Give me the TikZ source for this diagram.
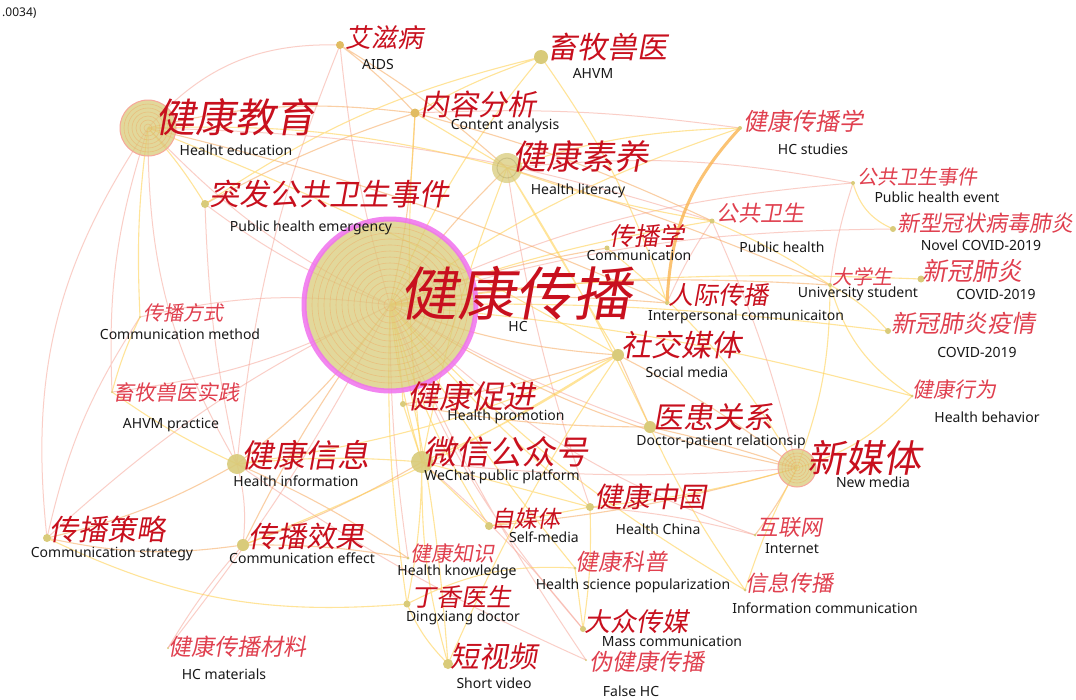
\documentclass[tikz,border=0pt]{standalone}
\usepackage{fontspec}
\setmainfont{Noto Sans}
\newfontfamily\cjk[FakeSlant=0.18]{Noto Sans CJK SC}
\newfontfamily\ensf{Noto Sans}
\usetikzlibrary{positioning}

\definecolor{kwred}{HTML}{C8101E}
\definecolor{kwlite}{HTML}{E0404F}
\definecolor{dotfill}{HTML}{D9CB7A}
\definecolor{ringc}{HTML}{F2A25C}
\definecolor{lnpink}{HTML}{F7A79A}
\definecolor{lnorange}{HTML}{F6A04D}
\definecolor{lnyellow}{HTML}{FFD256}
\definecolor{halo}{HTML}{F070EE}

\pgfdeclarelayer{links}
\pgfsetlayers{links,main}

\tikzset{
  kwdot/.style={circle, fill=dotfill, inner sep=0pt, minimum size=#1},
  bigkw/.style={circle, fill=dotfill, fill opacity=0.75, inner sep=0pt, minimum size=#1},
  ring/.style={draw=ringc, line width=0.6pt, opacity=0.45},
  cn/.style={text=kwred, inner sep=0pt, font=\cjk\fontsize{#1}{#1}\selectfont},
  cnl/.style={text=kwlite, inner sep=0pt, font=\cjk\fontsize{#1}{#1}\selectfont},
  en/.style={text=black!90, inner sep=0pt, font=\ensf\fontsize{14}{14}\selectfont},
  pinklink/.style={draw=lnpink, line width=1pt, opacity=0.55},
  orangelink/.style={draw=lnorange, line width=1.1pt, opacity=0.5},
  yellowlink/.style={draw=lnyellow, line width=1.1pt, opacity=0.6},
}

\begin{document}
\begin{tikzpicture}[x=1pt,y=-1pt]
        \useasboundingbox (0,0) rectangle (1076,699);

        % keyword circles
        \node[bigkw=170] (hc) at (390,305) {};
        \foreach \r in {6,12,...,78} \draw[ring] (hc.center) circle (\r pt);
        \draw[halo, line width=5pt, opacity=0.85] (hc.center) circle (86pt);

        \node[bigkw=56, draw=lnpink, line width=1pt] (jkjy) at (148,128) {};
        \foreach \r in {4,8,...,24} \draw[ring] (jkjy.center) circle (\r pt);

        \node[bigkw=38, draw=lnpink, line width=1pt] (xmt) at (797,468) {};
        \foreach \r in {3,6,...,15} \draw[ring] (xmt.center) circle (\r pt);

        \node[bigkw=30] (jksy) at (507,168) {};
        \draw[dotfill!70!black, opacity=0.3, line width=1pt] (jksy.center) circle (10pt);

        \node[kwdot=22, opacity=0.9] (wx) at (422,462) {};
        \node[kwdot=20, opacity=0.9] (jkxx) at (237,464) {};
        \node[kwdot=12] (cbxg) at (243,545) {};
        \node[kwdot=12] (sjmt) at (618,355) {};
        \node[kwdot=12] (yhgx) at (650,427) {};
        \node[kwdot=14] (xmsy) at (541,57) {};
        \node[kwdot=9, fill=dotfill!80!orange] (nrfx) at (415,113) {};
        \node[kwdot=8, fill=dotfill!80!orange] (azb) at (340,45) {};
        \node[kwdot=8] (tfgw) at (205,204) {};
        \node[kwdot=8] (cbcl) at (47,538) {};
        \node[kwdot=10] (dsp) at (448,664) {};
        \node[kwdot=8] (jkzg) at (590,507) {};
        \node[kwdot=8] (zmt) at (489,526) {};
        \node[kwdot=7] (dxys) at (407,604) {};
        \node[kwdot=6] (dzcm) at (583,629) {};
        \node[kwdot=6] (jkcj) at (403,404) {};
        \node[kwdot=5] (cbx) at (607,248) {};
        \node[kwdot=5] (ggws) at (712,221) {};
        \node[kwdot=4] (jkcbx) at (740,128) {};
        \node[kwdot=4] (ggwssj) at (853,183) {};
        \node[kwdot=6] (xxgz) at (893,229) {};
        \node[kwdot=4] (dxs) at (830,285) {};
        \node[kwdot=7] (xg) at (921,279) {};
        \node[kwdot=6] (xgyq) at (888,331) {};
        \node[kwdot=4] (rjcb) at (667,303) {};
        \node[kwdot=3] (jkxw) at (912,396) {};
        \node[kwdot=3] (hlw) at (755,535) {};
        \node[kwdot=3] (xxcb) at (745,590) {};
        \node[kwdot=3] (jkzs) at (408,558) {};
        \node[kwdot=3] (jkkp) at (575,568) {};
        \node[kwdot=2] (wjkcb) at (586,660) {};
        \node[kwdot=2] (cbfs) at (140,317) {};
        \node[kwdot=2] (xmsysj) at (112,392) {};
        \node[kwdot=2] (jkcbcl) at (168,648) {};

        % labels
        \node[cn=58] (hc-cn) at (515,293) {健康传播};
        \node[en] (hc-en) at (518,326) {HC};
        \node[cn=40] (jkjy-cn) at (235,117) {健康教育};
        \node[en] (jkjy-en) at (236,150) {Healht education};
        \node[cn=30] (tfgw-cn) at (329,194) {突发公共卫生事件};
        \node[en] (tfgw-en) at (311,228) {Public health emergency};
        \node[cn=26] (azb-cn) at (384,38) {艾滋病};
        \node[en] (azb-en) at (378,65) {AIDS};
        \node[cn=30] (xmsy-cn) at (607,47) {畜牧兽医};
        \node[en] (xmsy-en) at (593,73) {AHVM};
        \node[cn=29] (nrfx-cn) at (478,104) {内容分析};
        \node[en] (nrfx-en) at (505,126) {Content analysis};
        \node[cn=34] (jksy-cn) at (580,157) {健康素养};
        \node[en] (jksy-en) at (578,191) {Health literacy};
        \node[cnl=24] (jkcbx-cn) at (803,121) {健康传播学};
        \node[en] (jkcbx-en) at (813,149) {HC studies};
        \node[cnl=20] (ggwssj-cn) at (917,177) {公共卫生事件};
        \node[en] (ggwssj-en) at (937,197) {Public health event};
        \node[cnl=22] (xxgz-cn) at (985,223) {新型冠状病毒肺炎};
        \node[en] (xxgz-en) at (981,245) {Novel COVID-2019};
        \node[cnl=22] (ggws-cn) at (760,213) {公共卫生};
        \node[en] (ggws-en) at (782,247) {Public health};
        \node[cnl=20] (dxs-cn) at (862,277) {大学生};
        \node[en] (dxs-en) at (858,294) {University student};
        \node[cnl=25] (xg-cn) at (972,271) {新冠肺炎};
        \node[en] (xg-en) at (996,294) {COVID-2019};
        \node[cnl=24] (xgyq-cn) at (963,323) {新冠肺炎疫情};
        \node[en] (xgyq-en) at (977,352) {COVID-2019};
        \node[cn=25] (cbx-cn) at (647,236) {传播学};
        \node[en] (cbx-en) at (639,255) {Communication};
        \node[cn=25] (rjcb-cn) at (718,295) {人际传播};
        \node[en] (rjcb-en) at (746,317) {Interpersonal communicaiton};
        \node[cn=30] (sjmt-cn) at (681,345) {社交媒体};
        \node[en] (sjmt-en) at (687,372) {Social media};
        \node[cn=30] (yhgx-cn) at (713,417) {医患关系};
        \node[en] (yhgx-en) at (721,442) {Doctor-patient relationsip};
        \node[cn=38] (xmt-cn) at (864,458) {新媒体};
        \node[en] (xmt-en) at (873,482) {New media};
        \node[cnl=21] (jkxw-cn) at (954,389) {健康行为};
        \node[en] (jkxw-en) at (987,417) {Health behavior};
        \node[cnl=22] (hlw-cn) at (789,527) {互联网};
        \node[en] (hlw-en) at (792,549) {Internet};
        \node[cnl=22] (xxcb-cn) at (789,583) {信息传播};
        \node[en] (xxcb-en) at (825,608) {Information communication};
        \node[cn=28] (jkzg-cn) at (650,497) {健康中国};
        \node[en] (jkzg-en) at (658,529) {Health China};
        \node[cn=23] (zmt-cn) at (526,519) {自媒体};
        \node[en] (zmt-en) at (544,537) {Self-media};
        \node[cnl=21] (jkzs-cn) at (452,553) {健康知识};
        \node[en] (jkzs-en) at (457,572) {Health knowledge};
        \node[cnl=23] (jkkp-cn) at (621,562) {健康科普};
        \node[en] (jkkp-en) at (633,586) {Health science popularization};
        \node[cn=25] (dxys-cn) at (461,597) {丁香医生};
        \node[en] (dxys-en) at (463,618) {Dingxiang doctor};
        \node[cn=26] (dzcm-cn) at (636,622) {大众传媒};
        \node[en] (dzcm-en) at (672,641) {Mass communication};
        \node[cnl=23] (wjkcb-cn) at (647,662) {伪健康传播};
        \node[en] (wjkcb-en) at (631,691) {False HC};
        \node[cn=29] (dsp-cn) at (494,656) {短视频};
        \node[en] (dsp-en) at (494,683) {Short video};
        \node[cn=33] (wx-cn) at (506,452) {微信公众号};
        \node[en] (wx-en) at (502,477) {WeChat public platform};
        \node[cn=32] (jkcj-cn) at (471,396) {健康促进};
        \node[en] (jkcj-en) at (506,417) {Health promotion};
        \node[cn=32] (jkxx-cn) at (305,455) {健康信息};
        \node[en] (jkxx-en) at (296,481) {Health information};
        \node[cnl=20] (cbfs-cn) at (183,313) {传播方式};
        \node[en] (cbfs-en) at (180,334) {Communication method};
        \node[cnl=21] (xmsysj-cn) at (176,392) {畜牧兽医实践};
        \node[en] (xmsysj-en) at (171,425) {AHVM practice};
        \node[cn=29] (cbcl-cn) at (107,529) {传播策略};
        \node[en] (cbcl-en) at (112,554) {Communication strategy};
        \node[cn=29] (cbxg-cn) at (306,537) {传播效果};
        \node[en] (cbxg-en) at (302,558) {Communication effect};
        \node[cnl=23] (jkcbcl-cn) at (237,647) {健康传播材料};
        \node[en] (jkcbcl-en) at (224,674) {HC materials};
        \node[en, font=\ensf\bfseries\fontsize{12}{12}\selectfont, anchor=west] (thr) at (2,13) {.0034)};

        \begin{pgfonlayer}{links}
        \fill[white] (0,0) rectangle (1076,699);

        % links from HC
        \draw[pinklink] (hc.center) to[bend left=10] (jkjy.center)
          (hc.center) to[bend left=5] (azb.center)
          (hc.center) to[bend left=8] (tfgw.center)
          (hc.center) to[bend right=10] (cbfs.center)
          (hc.center) to[bend left=10] (xmsysj.center)
          (hc.center) to[bend right=8] (cbcl.center)
          (hc.center) to[bend left=5] (jkcbcl.center)
          (hc.center) to[bend right=10] (dzcm.center)
          (hc.center) to[bend right=12] (hlw.center)
          (hc.center) to[bend left=10] (ggwssj.center)
          (hc.center) to[bend left=8] (xxgz.center)
          (hc.center) to[bend right=5] (yhgx.center)
          (hc.center) to[bend right=4] (jkzs.center)
          (hc.center) to[bend right=5] (wjkcb.center);
        \draw[orangelink] (hc.center) to[bend right=5] (nrfx.center)
          (hc.center) to[bend left=5] (jksy.center)
          (hc.center) to[bend right=8] (sjmt.center)
          (hc.center) to[bend right=10] (xmt.center)
          (hc.center) to[bend left=8] (jkxx.center)
          (hc.center) to[bend right=5] (cbxg.center)
          (hc.center) to[bend left=5] (rjcb.center)
          (hc.center) to[bend left=6] (dxs.center)
          (hc.center) to[bend left=5] (cbx.center);
        \draw[yellowlink] (hc.center) to[bend left=8] (xmsy.center)
          (hc.center) to[bend right=5] (wx.center)
          (hc.center) to[bend left=4] (jkcj.center)
          (hc.center) to[bend right=5] (dxys.center)
          (hc.center) to[bend left=5] (dsp.center)
          (hc.center) to[bend right=8] (zmt.center)
          (hc.center) to[bend right=5] (jkzg.center)
          (hc.center) to[bend right=4] (jkkp.center)
          (hc.center) to[bend right=8] (xxcb.center)
          (hc.center) to[bend left=5] (jkxw.center)
          (hc.center) to[bend left=5] (xg.center)
          (hc.center) to[bend left=4] (xgyq.center)
          (hc.center) to[bend left=5] (ggws.center)
          (hc.center) to[bend left=8] (jkcbx.center);

        % other links
        \draw[pinklink] (jkjy.center) to[bend left=25] (azb.center)
          (jkjy.center) to[bend left=8] (ggws.center)
          (jkjy.center) to[bend right=15] (jkxx.center)
          (jkjy.center) to[bend right=10] (xmsysj.center)
          (jkjy.center) to[bend right=20] (cbcl.center)
          (azb.center) to[bend right=8] (jkxx.center)
          (jkcbx.center) to[bend right=5] (nrfx.center)
          (jksy.center) to[bend left=8] (ggwssj.center)
          (jksy.center) to[bend right=5] (jkzg.center)
          (ggwssj.center) to[bend right=5] (dxs.center)
          (ggws.center) to[bend left=5] (xmt.center)
          (ggws.center) to[bend right=5] (rjcb.center)
          (xmt.center) to[bend left=5] (wx.center)
          (jkzg.center) to[bend left=5] (hlw.center)
          (jkxx.center) to[bend left=10] (cbxg.center)
          (jkxx.center) to[bend right=5] (wjkcb.center)
          (cbcl.center) to[bend left=10] (cbfs.center)
          (cbxg.center) to[bend right=5] (jkcbcl.center)
          (dzcm.center) to[bend right=5] (wx.center)
          (tfgw.center) to[bend right=5] (jkxx.center);
        \draw[orangelink] (jkjy.center) to[bend left=10] (nrfx.center)
          (jkjy.center) to[bend left=5] (rjcb.center)
          (azb.center) to[bend left=5] (nrfx.center)
          (azb.center) to[bend left=5] (jksy.center)
          (nrfx.center) to[bend right=5] (tfgw.center)
          (nrfx.center) to[bend left=5] (ggws.center)
          (jksy.center) to[bend left=3] (dxs.center)
          (xmt.center) to[bend right=3] (yhgx.center)
          (xmt.center) to[bend right=5] (sjmt.center)
          (xmt.center) to[bend left=5] (hlw.center)
          (xmt.center) to[bend left=5] (zmt.center)
          (sjmt.center) to[bend left=5] (jkcj.center)
          (sjmt.center) to (yhgx.center)
          (yhgx.center) to[bend left=5] (jkcj.center)
          (wx.center) to[bend left=5] (cbxg.center)
          (jkxx.center) to[bend left=8] (cbcl.center)
          (jkxx.center) to[bend left=5] (jkzs.center)
          (cbcl.center) to[bend right=10] (cbxg.center)
          (cbxg.center) to[bend left=5] (jkzs.center);
        \draw[yellowlink] (jkjy.center) to[bend left=8] (jksy.center)
          (jkjy.center) to[bend left=5] (tfgw.center)
          (jkjy.center) to[bend right=5] (cbfs.center)
          (jkjy.center) to[bend left=4] (sjmt.center)
          (xmsy.center) to[bend right=5] (nrfx.center)
          (xmsy.center) to[bend left=8] (rjcb.center)
          (xmsy.center) to[bend right=10] (tfgw.center)
          (nrfx.center) to[bend right=5] (wx.center)
          (nrfx.center) to (jksy.center)
          (jksy.center) to[bend left=8] (jkcbx.center)
          (jksy.center) to[bend right=5] (ggws.center)
          (jksy.center) to (sjmt.center)
          (jksy.center) to[bend left=3] (yhgx.center)
          (jksy.center) to[bend right=5] (wx.center)
          (ggwssj.center) to[bend right=25] (xxgz.center)
          (dxs.center) to[bend left=10] (xgyq.center)
          (dxs.center) to[bend right=20] (jkxw.center)
          (jkxw.center) to[bend left=15] (xmt.center)
          (ggws.center) to[bend left=5] (dxs.center)
          (xmt.center) to[bend right=10] (dxs.center)
          (xmt.center) to[bend left=5] (jkzg.center)
          (xmt.center) to[bend right=5] (xxcb.center)
          (xmt.center) to[bend right=10] (cbx.center)
          (sjmt.center) to[bend left=5] (wx.center)
          (sjmt.center) to[bend left=8] (jkxx.center)
          (sjmt.center) to[bend left=5] (cbxg.center)
          (sjmt.center) to[bend right=5] (dsp.center)
          (yhgx.center) to[bend right=5] (xxcb.center)
          (jkzg.center) to (wx.center)
          (jkzg.center) to[bend left=5] (dzcm.center)
          (jkzg.center) to (zmt.center)
          (wx.center) to[bend right=5] (jkxx.center)
          (wx.center) to (zmt.center)
          (wx.center) to[bend left=5] (dxys.center)
          (wx.center) to (jkcj.center)
          (wx.center) to[bend right=8] (dsp.center)
          (cbcl.center) to[bend right=15] (dxys.center)
          (dxys.center) to[bend right=10] (dsp.center)
          (dxys.center) to[bend left=15] (jkkp.center)
          (dzcm.center) to (jkkp.center)
          (xmsysj.center) to[bend right=5] (jkxx.center)
          (cbfs.center) to[bend right=5] (xmsysj.center);
        \draw[yellowlink, draw=lnorange!60!lnyellow, line width=3pt, opacity=0.8]
          (jkcbx.center) to[bend right=20] (rjcb.center);
        \end{pgfonlayer}

\end{tikzpicture}
\end{document}
